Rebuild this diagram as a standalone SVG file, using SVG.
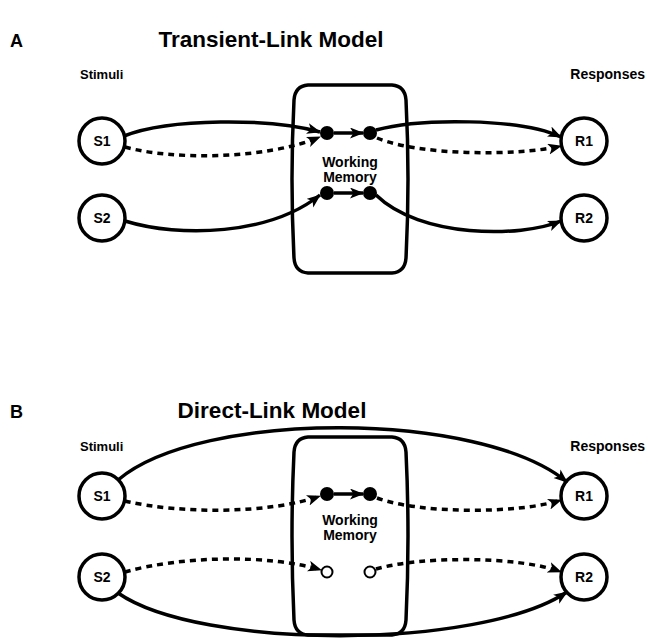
<svg xmlns="http://www.w3.org/2000/svg" width="650" height="643" viewBox="0 0 650 643">
  <defs>
    <marker id="arrow" markerUnits="userSpaceOnUse" markerWidth="15" markerHeight="12" refX="13" refY="5.5" orient="auto">
      <path d="M0,0 L14,5.5 L0,11 L3.5,5.5 Z" fill="#000"/>
    </marker>
    <style>
      text { font-family: "Liberation Sans", Arial, sans-serif; font-weight: bold; fill: #000; }
      .panel { font-size: 18px; }
      .title { font-size: 22.5px; text-anchor: middle; }
      .head { font-size: 13px; }
      .head-r { font-size: 14px; text-anchor: end; }
      .lbl { font-size: 14px; text-anchor: middle; }
      .wm { font-size: 14px; text-anchor: middle; }
      .node { fill: #fff; stroke: #000; stroke-width: 3.5; }
      .box { fill: none; stroke: #000; stroke-width: 3.5; }
      .dot { fill: #000; }
      .open { fill: #fff; stroke: #000; stroke-width: 2; }
      .solid { fill: none; stroke: #000; stroke-width: 3.5; }
      .dash { fill: none; stroke: #000; stroke-width: 3.5; stroke-dasharray: 6 5; }
    </style>
  </defs>
  <rect width="650" height="643" fill="#fff"/>

  <!-- Panel A: Transient-Link Model -->
  <text class="panel" x="10" y="47">A</text>
  <text class="title" x="271" y="47">Transient-Link Model</text>
  <text class="head" x="80" y="79">Stimuli</text>
  <text class="head-r" x="645" y="79">Responses</text>

  <g id="a-wm">
    <path class="box" d="M308,85 L392,85 Q405,86 406,100 Q410,179 406,258 Q405,272 392,273 L308,273 Q295,272 294,258 Q290,179 294,100 Q295,86 308,85 Z"/>
    <text class="wm" x="350" y="167">Working</text>
    <text class="wm" x="350" y="182">Memory</text>
    <circle class="dot" cx="327" cy="133" r="7"/>
    <circle class="dot" cx="370" cy="133" r="7"/>
    <circle class="dot" cx="327" cy="193" r="7"/>
    <circle class="dot" cx="370" cy="193" r="7"/>
  </g>
  <g id="a-s1"><circle class="node" cx="102" cy="141" r="23"/><text class="lbl" x="102" y="146">S1</text></g>
  <g id="a-s2"><circle class="node" cx="102" cy="218" r="23"/><text class="lbl" x="102" y="223">S2</text></g>
  <g id="a-r1"><circle class="node" cx="584" cy="141" r="23"/><text class="lbl" x="584" y="146">R1</text></g>
  <g id="a-r2"><circle class="node" cx="584" cy="218" r="23"/><text class="lbl" x="584" y="223">R2</text></g>

  <g id="a-connectors">
    <path class="solid" d="M124,136 C170,118 270,118 320,132" marker-end="url(#arrow)"/>
    <path class="dash" d="M125,147 C170,160 265,160 320,137" marker-end="url(#arrow)"/>
    <path class="solid" d="M334,133 L363,133" marker-end="url(#arrow)"/>
    <path class="solid" d="M376,130 C420,118 520,118 561,137" marker-end="url(#arrow)"/>
    <path class="dash" d="M377,138 C420,156 520,156 561,146" marker-end="url(#arrow)"/>
    <path class="solid" d="M125,221 C180,238 270,235 320,195" marker-end="url(#arrow)"/>
    <path class="solid" d="M334,193 L363,193" marker-end="url(#arrow)"/>
    <path class="solid" d="M376,195 C420,238 520,238 561,221" marker-end="url(#arrow)"/>
  </g>

  <!-- Panel B: Direct-Link Model -->
  <text class="panel" x="10" y="418">B</text>
  <text class="title" x="272" y="418">Direct-Link Model</text>
  <text class="head" x="80" y="451">Stimuli</text>
  <text class="head-r" x="645" y="451">Responses</text>

  <g id="b-wm">
    <path class="box" d="M308,437 L392,437 Q405,438 406,452 Q410,536 406,620 Q405,634 392,635 L308,635 Q295,634 294,620 Q290,536 294,452 Q295,438 308,437 Z"/>
    <text class="wm" x="350" y="525">Working</text>
    <text class="wm" x="350" y="540">Memory</text>
    <circle class="dot" cx="327" cy="494" r="7"/>
    <circle class="dot" cx="370" cy="494" r="7"/>
    <circle class="open" cx="327" cy="572" r="5.5"/>
    <circle class="open" cx="370" cy="572" r="5.5"/>
  </g>
  <g id="b-s1"><circle class="node" cx="102" cy="496" r="23"/><text class="lbl" x="102" y="501">S1</text></g>
  <g id="b-s2"><circle class="node" cx="102" cy="577" r="23"/><text class="lbl" x="102" y="582">S2</text></g>
  <g id="b-r1"><circle class="node" cx="584" cy="496" r="23"/><text class="lbl" x="584" y="501">R1</text></g>
  <g id="b-r2"><circle class="node" cx="584" cy="577" r="23"/><text class="lbl" x="584" y="582">R2</text></g>

  <g id="b-connectors">
    <path class="solid" d="M118,480 C200,410 480,410 567,482" marker-end="url(#arrow)"/>
    <path class="solid" d="M118,593 C200,650 480,650 567,592" marker-end="url(#arrow)"/>
    <path class="dash" d="M125,501 C180,514 270,514 320,496" marker-end="url(#arrow)"/>
    <path class="solid" d="M334,494 L363,494" marker-end="url(#arrow)"/>
    <path class="dash" d="M377,498 C420,514 520,514 561,500" marker-end="url(#arrow)"/>
    <path class="dash" d="M125,572 C180,556 270,554 321,570" marker-end="url(#arrow)"/>
    <path class="dash" d="M376,569 C420,556 520,556 561,572" marker-end="url(#arrow)"/>
  </g>
</svg>
